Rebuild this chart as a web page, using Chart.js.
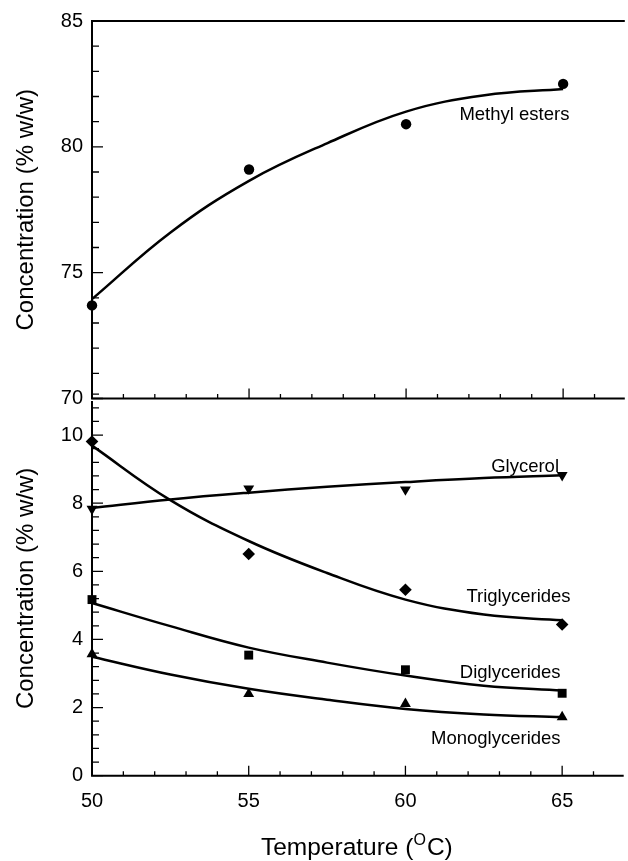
<!DOCTYPE html>
<html lang="en">
<head>
<meta charset="UTF-8">
<title>Concentration vs temperature</title>
<script src="https://cdn.jsdelivr.net/npm/chart.js"></script>
<style>
body{margin:0;background:#fff}
#wrap{position:relative;width:628px;height:861px}
#topBox{position:absolute;left:0;top:0;width:628px;height:420px}
#botBox{position:absolute;left:0;top:380px;width:628px;height:481px}
</style>
</head>
<body>
<div id="wrap">
  <div id="topBox"><canvas id="topChart"></canvas></div>
  <div id="botBox"><canvas id="botChart"></canvas></div>
</div>
<script>
// measured points (symbols) and fitted curve read at 2.5 degree steps
const temps=[50,55,60,65];
const fitTemps=[50,52.5,55,57.5,60,62.5,65];
const xTicks=[50,55,60,65];

const esterPts=[73.7,79.1,80.9,82.5];
const esterFit=[73.95,76.6,78.65,80.15,81.4,82.05,82.3];

const glycerolPts=[7.83,8.43,8.4,8.82];
const glycerolFit=[7.86,8.11,8.31,8.48,8.62,8.74,8.82];
const triPts=[9.81,6.51,5.46,4.44];
const triFit=[9.69,8.09,6.89,5.95,5.17,4.73,4.56];
const diPts=[5.17,3.54,3.11,2.42];
const diFit=[5.07,4.39,3.76,3.32,2.94,2.64,2.50];
const monoPts=[3.57,2.40,2.11,1.72];
const monoFit=[3.49,2.97,2.55,2.23,1.96,1.80,1.72];

const topNotes=[{text:'Methyl esters',x:65.2,y:81.08}];
const botNotes=[
  {text:'Glycerol',x:64.9,y:8.91},
  {text:'Triglycerides',x:65.27,y:5.09},
  {text:'Diglycerides',x:64.95,y:2.87},
  {text:'Monoglycerides',x:64.95,y:0.92}
];

Chart.defaults.font.family='"Liberation Sans", Arial, sans-serif';
Chart.defaults.color='#000';

const xy=(xs,ys)=>xs.map((x,i)=>({x:x,y:ys[i]}));
const pts=(ys,style,rot)=>({data:xy(temps,ys),showLine:false,pointStyle:style,rotation:rot||0,
  pointRadius:style==='circle'?5.2:6.3,backgroundColor:'#000',borderColor:'#000',borderWidth:0,clip:false});
const fit=ys=>({data:xy(fitTemps,ys),showLine:true,pointRadius:0,borderColor:'#000',borderWidth:2.5,
  tension:0.4,fill:false,clip:false});

// frame, inward ticks, curve labels
const decor={id:'decor',afterDraw(chart,args,o){
  const {ctx,chartArea:a,scales:{x,y}}=chart;
  ctx.save();
  ctx.strokeStyle='#000';ctx.lineWidth=2;
  ctx.beginPath();
  if(o.top){ctx.moveTo(a.right+2,a.top);ctx.lineTo(a.left,a.top);}else{ctx.moveTo(a.left,a.top);}
  ctx.lineTo(a.left,a.bottom);ctx.lineTo(a.right+2,a.bottom);
  ctx.stroke();
  ctx.lineWidth=1.3;
  ctx.beginPath();
  for(let v=50;v<=66;v++){
    const px=x.getPixelForValue(v), len=v%5===0?10:4.5;
    ctx.moveTo(px,a.bottom);ctx.lineTo(px,a.bottom-len);
  }
  const n=Math.round((y.max-y.min)/o.minor);
  for(let i=0;i<=n;i++){
    const v=y.min+i*o.minor, py=y.getPixelForValue(v);
    const major=Math.abs(v/o.major-Math.round(v/o.major))<1e-6;
    ctx.moveTo(a.left,py);ctx.lineTo(a.left+(major?11:7),py);
  }
  ctx.stroke();
  ctx.fillStyle='#000';ctx.font='18.5px "Liberation Sans", Arial, sans-serif';
  ctx.textAlign='right';ctx.textBaseline='alphabetic';
  o.notes.forEach(n=>ctx.fillText(n.text,x.getPixelForValue(n.x),y.getPixelForValue(n.y)));
  if(o.xTitle){
    const f='24.5px "Liberation Sans", Arial, sans-serif', fs='16px "Liberation Sans", Arial, sans-serif';
    ctx.font=f;const w1=ctx.measureText('Temperature (').width, w3=ctx.measureText('C)').width;
    ctx.font=fs;const w2=ctx.measureText('O').width+1;
    let sx=(a.left+a.right)/2-(w1+w2+w3)/2;
    const by=a.bottom+79;
    ctx.textAlign='left';
    ctx.font=f;ctx.fillText('Temperature (',sx,by);
    ctx.font=fs;ctx.fillText('O',sx+w1,by-10);
    ctx.font=f;ctx.fillText('C)',sx+w1+w2,by);
  }
  ctx.restore();
}};

function opts(c){
  return {
    responsive:true,maintainAspectRatio:false,animation:false,
    layout:{padding:{top:c.padTop,left:0,right:0,bottom:0}},
    plugins:{legend:{display:false},tooltip:{enabled:false},
      decor:{top:c.top,notes:c.notes,major:c.major,minor:c.minor,xTitle:c.xTitle}},
    scales:{
      x:{type:'linear',min:50,max:66.9,
        afterBuildTicks:s=>{s.ticks=xTicks.map(v=>({value:v}));},
        afterFit:s=>{s.height=c.xHeight;},
        grid:{display:false,drawTicks:false},border:{display:false},
        ticks:{display:c.xLabels,padding:14,font:{size:20}}},
      y:{type:'linear',min:c.ymin,max:c.ymax,
        afterBuildTicks:s=>{s.ticks=c.yTicks.map(v=>({value:v}));},
        afterFit:s=>{s.width=92;},
        grid:{display:false,drawTicks:false},border:{display:false},
        ticks:{padding:9,font:{size:20}},
        title:{display:true,text:'Concentration (% w/w)',font:{size:24},padding:{top:12,bottom:0}}}
    }
  };
}

new Chart(document.getElementById('topChart'),{
  type:'scatter',
  data:{datasets:[fit(esterFit),pts(esterPts,'circle')]},
  options:opts({padTop:19.3,xHeight:21.5,xLabels:false,top:true,notes:topNotes,
    major:5,minor:1,ymin:70,ymax:85,yTicks:[70,75,80,85],xTitle:false}),
  plugins:[decor]
});

new Chart(document.getElementById('botChart'),{
  type:'scatter',
  data:{datasets:[
    fit(glycerolFit),fit(triFit),fit(diFit),fit(monoFit),
    pts(glycerolPts,'triangle',180),pts(triPts,'rectRot'),pts(diPts,'rect'),pts(monoPts,'triangle')
  ]},
  options:opts({padTop:18.5,xHeight:85.3,xLabels:true,top:false,notes:botNotes,
    major:2,minor:0.4,ymin:0,ymax:11,yTicks:[0,2,4,6,8,10],xTitle:true}),
  plugins:[decor]
});
</script>
</body>
</html>
